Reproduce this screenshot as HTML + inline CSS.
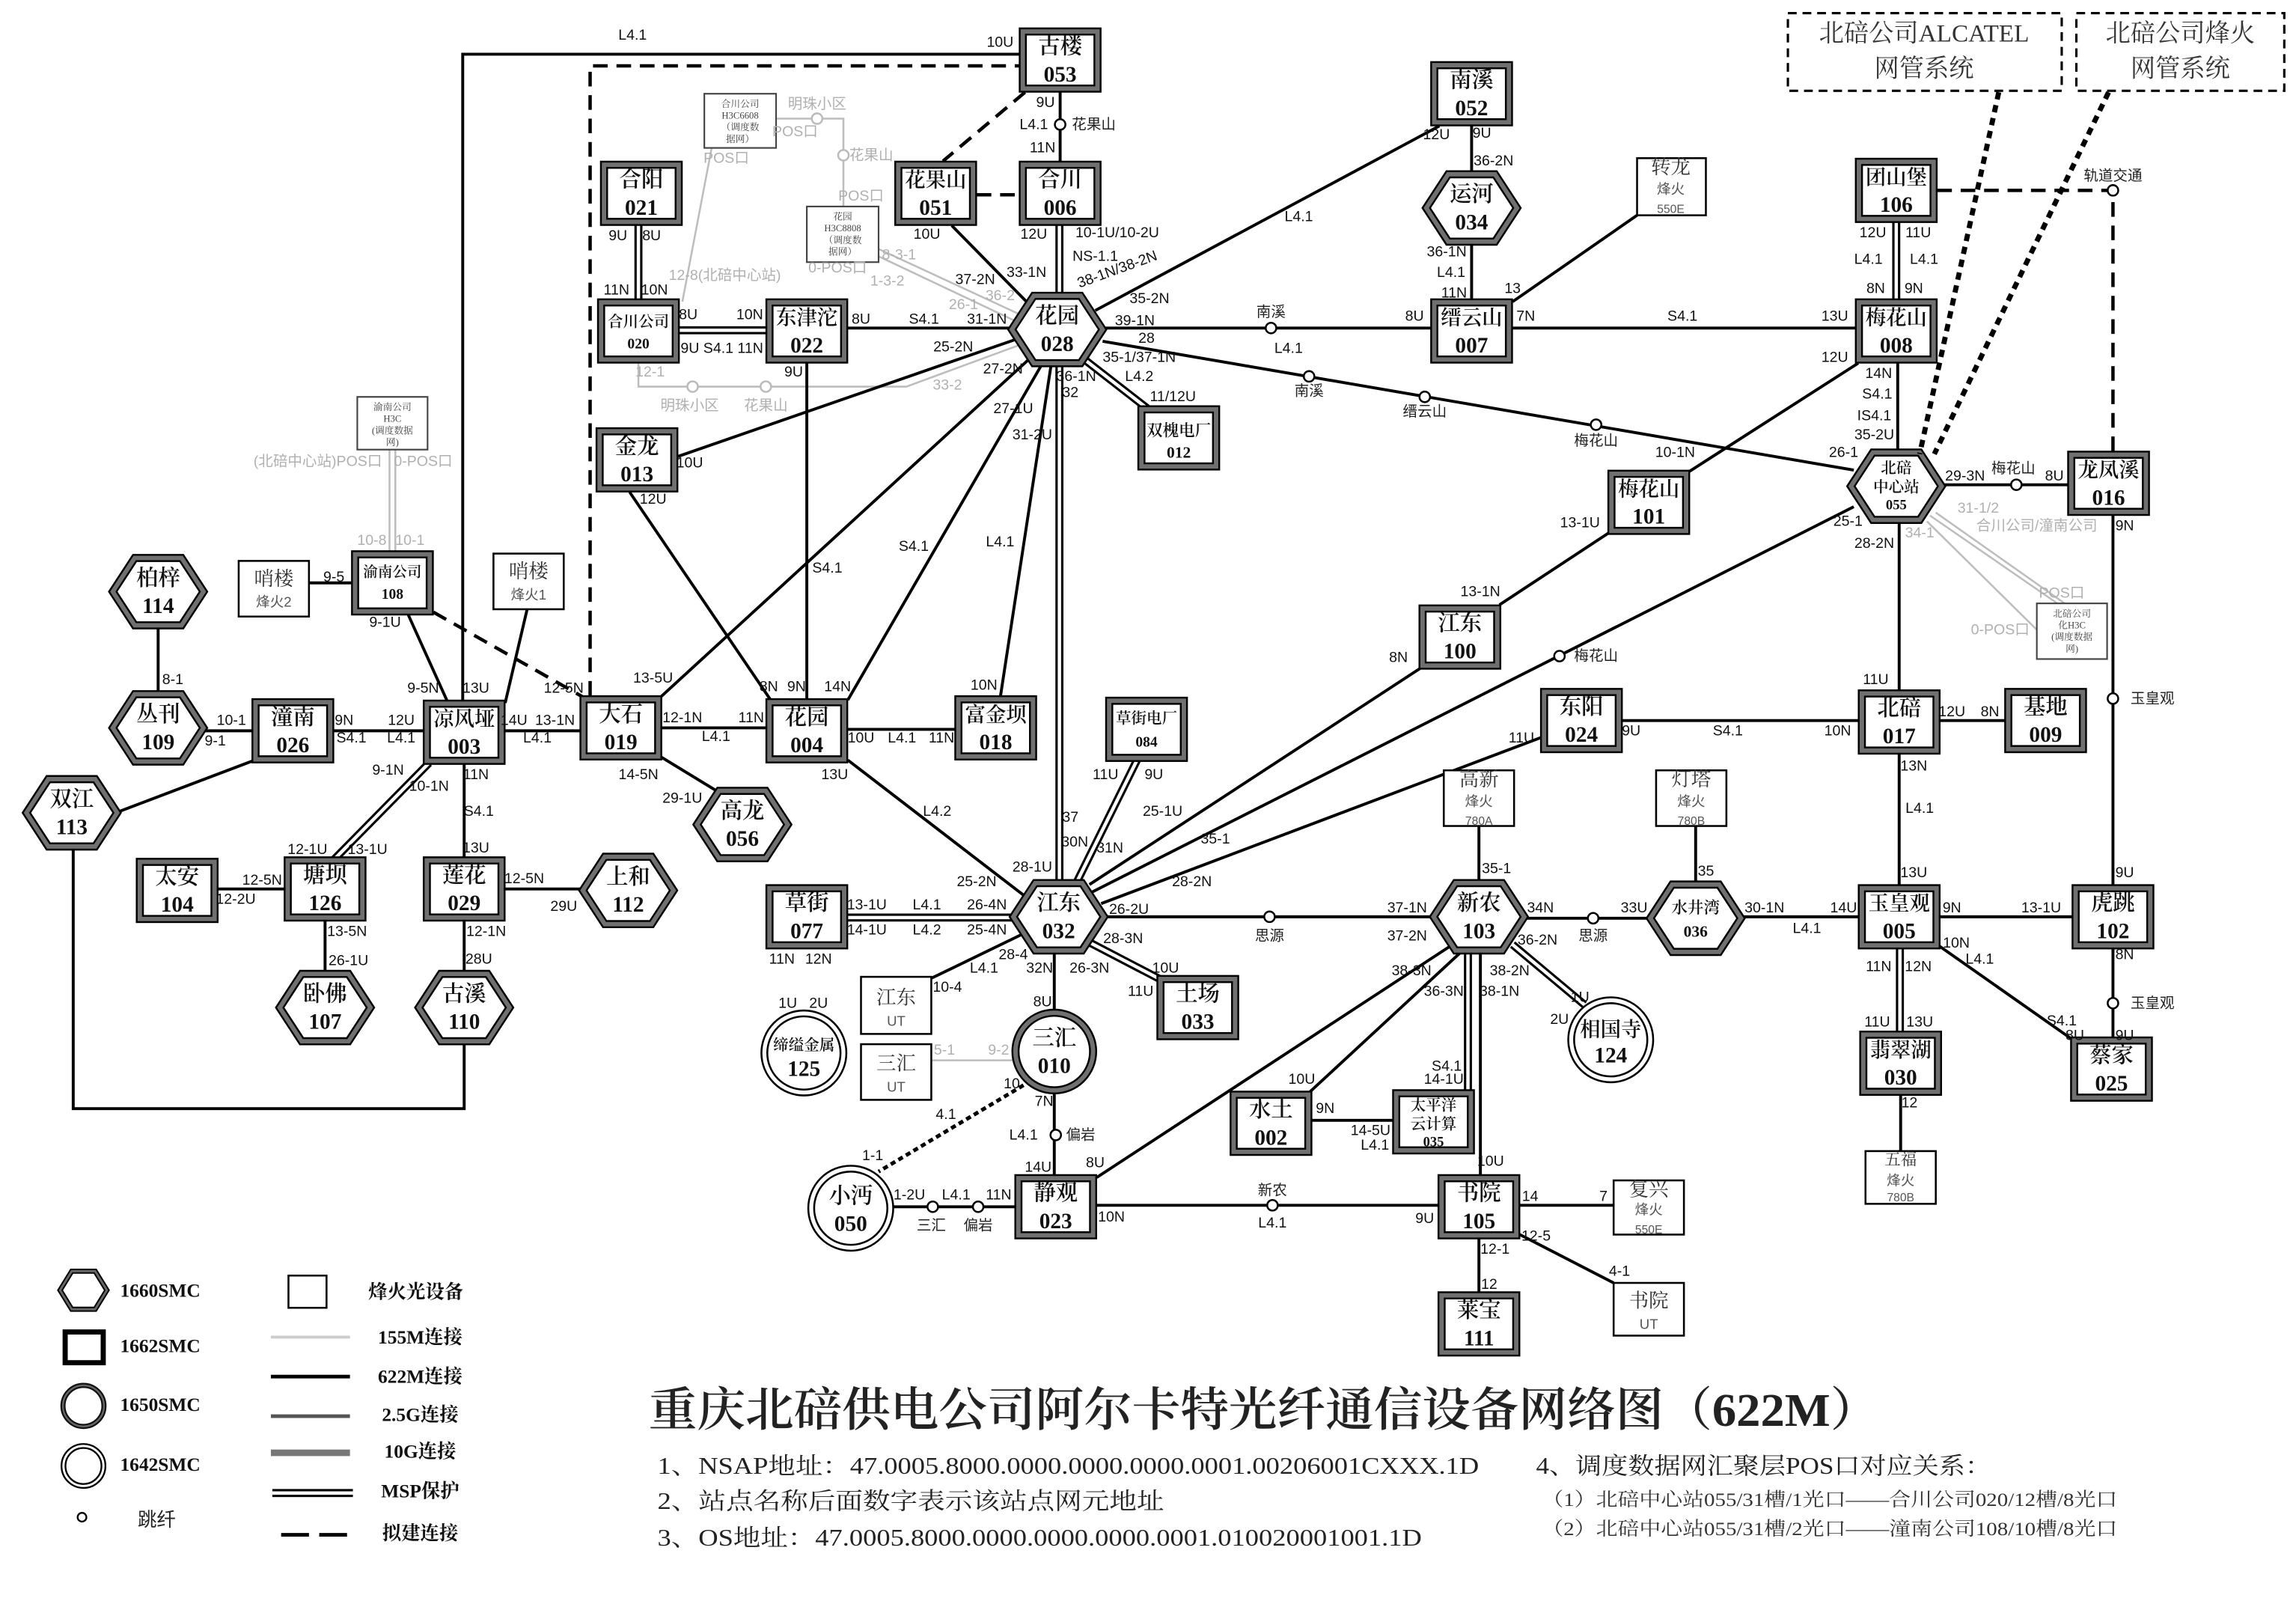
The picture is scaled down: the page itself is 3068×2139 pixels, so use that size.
<!DOCTYPE html>
<html><head><meta charset="utf-8"><style>
html,body{margin:0;padding:0;background:#fff}
svg{display:block}
.e{fill:none;stroke:#000;stroke-width:2}
.d{fill:none;stroke:#000;stroke-width:2.3;stroke-dasharray:10 6}
.m1{fill:none;stroke:#000;stroke-width:5.5}
.m2{fill:none;stroke:#fff;stroke-width:2.3}
.gl{fill:none;stroke:#bdbdbd;stroke-width:1.3}
.j{fill:#fff;stroke:#000;stroke-width:1.3}
.gj{fill:#fff;stroke:#bbb;stroke-width:1.3}
.b1{fill:#fff;stroke:#000;stroke-width:5.5}
.b2{fill:none;stroke:#707070;stroke-width:3}
.fb{fill:#fff;stroke:#000;stroke-width:1.3}
.hb{fill:#fff;stroke:#444;stroke-width:1.1}
text{dominant-baseline:central;text-anchor:middle}
.p{font-size:10px;font-family:"Liberation Sans",sans-serif;fill:#111}
.g{font-size:10px;font-family:"Liberation Sans","Noto Sans CJK SC",sans-serif;fill:#b0b0b0}
.c{font-size:10px;font-family:"Liberation Sans","Noto Sans CJK SC",sans-serif;fill:#222}
.nm{font-size:15px;font-family:"Liberation Serif","Noto Serif CJK SC",serif;font-weight:600;fill:#111}
.nu{font-size:15px;font-family:"Liberation Serif",serif;font-weight:bold;fill:#111}
.bn{font-size:13.5px;font-family:"Liberation Serif","Noto Serif CJK SC",serif;fill:#333}
.bs{font-size:9.5px;font-family:"Liberation Sans","Noto Sans CJK SC",sans-serif;fill:#555}
.h{font-size:6.5px;font-family:"Liberation Serif","Noto Serif CJK SC",serif;fill:#444}
.lg{font-size:13px;font-family:"Liberation Serif","Noto Serif CJK SC",serif;font-weight:bold;fill:#111}
</style></head><body>
<svg xmlns="http://www.w3.org/2000/svg" width="3068" height="2139" viewBox="0 0 1568 1093.2">
<rect width="1568" height="1093.2" fill="#fff"/>

<!-- gray 155M lines -->
<g>
<path class="gl" d="M530,81H576V141"/>
<path class="gl" d="M486,101L466,206"/>
<path class="gl" d="M436,248V264H619L695,236"/>
<path class="gl" d="M600,170L695,214"/>
<path class="gl" d="M600,175L693,219"/>
<path class="gl" d="M266,307V378"/>
<path class="gl" d="M270,307V378"/>
<path class="gl" d="M1318,352L1405,412"/>
<path class="gl" d="M1322,350L1410,412"/>
<path class="gl" d="M1316,356L1391,430"/>
<path class="gl" d="M636,724H692"/>
</g>

<!-- edges -->
<g>
<path class="e" d="M316,478V37H696"/>
<path class="d" d="M403,475V45H696"/>
<path class="e" d="M724,63V110"/>
<path class="d" d="M700,63L644,110"/>
<path class="d" d="M667,133H696"/>
<path class="m1" d="M723.5,154V202"/><path class="m2" d="M723.5,154V202"/>
<path class="e" d="M650,154L702,207"/>
<path class="e" d="M579,224H691"/>
<path class="e" d="M753,224H979"/>
<path class="e" d="M748,212L983,86"/>
<path class="e" d="M1005,86V119"/>
<path class="e" d="M1005,165V206"/>
<path class="e" d="M1118,147L1033,206"/>
<path class="e" d="M1033,224H1269"/>
<path class="m1" d="M1295,152V206"/><path class="m2" d="M1295,152V206"/>
<path class="d" d="M1323,130H1443V310"/>
<path class="e" d="M1296,248V309"/>
<path class="e" d="M1269,248L1152,323"/>
<path class="e" d="M753,233L1266,321"/>
<path class="m1" d="M740,245L785,280"/><path class="m2" d="M740,245L785,280"/>
<path class="e" d="M693,232L462,312"/>
<path class="e" d="M703,245L450,477"/>
<path class="e" d="M712,248L579,478"/>
<path class="e" d="M718,248L683,477"/>
<path class="m1" d="M723.5,248V603"/><path class="m2" d="M723.5,248V603"/>
<path class="e" d="M551,248V479"/>
<path class="e" d="M430,336L527,479"/>
<path class="m1" d="M436,154V206"/><path class="m2" d="M436,154V206"/>
<path class="m1" d="M464,225.5H525"/><path class="m2" d="M464,225.5H525"/>

<path class="e" d="M108,427V474"/>
<path class="e" d="M139,499H174"/>
<path class="e" d="M211,398H242"/>
<path class="e" d="M278,418L306,480"/>
<path class="d" d="M296,418L400,477"/>
<path class="e" d="M360,416L345,480"/>
<path class="e" d="M228,499H291"/>
<path class="e" d="M343,499H398"/>
<path class="e" d="M450,497H525"/>
<path class="e" d="M174,519L79,555"/>
<path class="m1" d="M293,521L228,587"/><path class="m2" d="M293,521L228,587"/>
<path class="e" d="M317,520V587"/>
<path class="e" d="M149,607H196"/>
<path class="e" d="M222,627V665"/>
<path class="e" d="M343,607H398"/>
<path class="e" d="M317,627V665"/>
<path class="e" d="M50,578V757H317V711"/>
<path class="e" d="M450,516L491,541"/>

<path class="e" d="M579,498H654"/>
<path class="e" d="M579,519L700,612"/>
<path class="m1" d="M777,518L735,603"/><path class="m2" d="M777,518L735,603"/>
<path class="e" d="M972,455L744,604"/>
<path class="e" d="M1266,346L746,609"/>
<path class="e" d="M1054,503L752,617"/>
<path class="e" d="M1100,363L1024,413"/>
<path class="e" d="M754,626H979"/>
<path class="m1" d="M579,626.5H692"/><path class="m2" d="M579,626.5H692"/>
<path class="e" d="M700,637L636,668"/>
<path class="e" d="M720,649V691"/>
<path class="m1" d="M745,644L793,669"/><path class="m2" d="M745,644L793,669"/>
<path class="e" d="M1010,564V603"/>
<path class="e" d="M1041,627H1127"/>
<path class="e" d="M1158,564V604"/>
<path class="e" d="M1189,626H1271"/>
<path class="m1" d="M1033,645L1082,686"/><path class="m2" d="M1033,645L1082,686"/>
<path class="e" d="M992,645L749,804"/>
<path class="e" d="M1000,648L893,747"/>
<path class="m1" d="M1002.5,649V746"/><path class="m2" d="M1002.5,649V746"/>
<path class="e" d="M1011,649V804"/>
<path class="e" d="M896,765H953"/>
<path class="e" d="M720,747V804"/>
<path fill="none" stroke="#000" stroke-width="2.6" stroke-dasharray="3.5 2.5" d="M699,741L600,800"/>
<path class="e" d="M610,824H695"/>
<path class="e" d="M747,823H984"/>
<path class="e" d="M1036,823H1102"/>
<path class="e" d="M1036,842L1102,876"/>
<path class="e" d="M1010,844V884"/>

<path class="e" d="M1326,331H1414"/>
<path class="e" d="M1297,355V473"/>
<path class="e" d="M1107,492H1271"/>
<path class="e" d="M1323,492H1371"/>
<path class="e" d="M1297,513V606"/>
<path class="e" d="M1443,350V606"/>
<path class="e" d="M1323,626H1417"/>
<path class="m1" d="M1297.5,646V706"/><path class="m2" d="M1297.5,646V706"/>
<path class="e" d="M1323,645L1417,711"/>
<path class="e" d="M1443,646V710"/>
<path class="e" d="M1298,746V786"/>
</g>

<!-- jump circles -->
<g>
<circle class="j" cx="724" cy="85" r="3.6"/>
<circle class="j" cx="868" cy="224" r="3.6"/>
<circle class="j" cx="894" cy="257" r="3.6"/>
<circle class="j" cx="973" cy="271" r="3.6"/>
<circle class="j" cx="1090" cy="290" r="3.6"/>
<circle class="j" cx="1065" cy="448" r="3.6"/>
<circle class="j" cx="1377" cy="331" r="3.6"/>
<circle class="j" cx="1443" cy="130" r="3.6"/>
<circle class="j" cx="1443" cy="477" r="3.6"/>
<circle class="j" cx="867" cy="626" r="3.6"/>
<circle class="j" cx="1088" cy="627" r="3.6"/>
<circle class="j" cx="1443" cy="685" r="3.6"/>
<circle class="j" cx="721" cy="775" r="3.6"/>
<circle class="j" cx="637" cy="824" r="3.6"/>
<circle class="j" cx="668" cy="824" r="3.6"/>
<circle class="j" cx="869" cy="823" r="3.6"/>
<circle class="gj" cx="558" cy="81" r="3.6"/>
<circle class="gj" cx="576" cy="106" r="3.6"/>
<circle class="gj" cx="473" cy="264" r="3.6"/>
<circle class="gj" cx="523" cy="264" r="3.6"/>
</g>

<!-- box nodes -->
<g transform="translate(724,41)"><rect class="b1" x="-25.5" y="-19.5" width="51" height="39"/><rect class="b2" x="-25.5" y="-19.5" width="51" height="39"/><text class="nm" y="-9">古楼</text><text class="nu" y="10">053</text></g>
<g transform="translate(1005,64)"><rect class="b1" x="-25.5" y="-19.5" width="51" height="39"/><rect class="b2" x="-25.5" y="-19.5" width="51" height="39"/><text class="nm" y="-9">南溪</text><text class="nu" y="10">052</text></g>
<g transform="translate(438,132)"><rect class="b1" x="-25.5" y="-19.5" width="51" height="39"/><rect class="b2" x="-25.5" y="-19.5" width="51" height="39"/><text class="nm" y="-9">合阳</text><text class="nu" y="10">021</text></g>
<g transform="translate(639,132)"><rect class="b1" x="-25.5" y="-19.5" width="51" height="39"/><rect class="b2" x="-25.5" y="-19.5" width="51" height="39"/><text class="nm" y="-9" style="font-size:14px">花果山</text><text class="nu" y="10">051</text></g>
<g transform="translate(724,132)"><rect class="b1" x="-25.5" y="-19.5" width="51" height="39"/><rect class="b2" x="-25.5" y="-19.5" width="51" height="39"/><text class="nm" y="-9">合川</text><text class="nu" y="10">006</text></g>
<g transform="translate(1295,130)"><rect class="b1" x="-25.5" y="-19.5" width="51" height="39"/><rect class="b2" x="-25.5" y="-19.5" width="51" height="39"/><text class="nm" y="-9" style="font-size:14px">团山堡</text><text class="nu" y="10">106</text></g>
<g transform="translate(436,226)"><rect class="b1" x="-25.5" y="-19.5" width="51" height="39"/><rect class="b2" x="-25.5" y="-19.5" width="51" height="39"/><text class="nm" y="-6" style="font-size:10.5px">合川公司</text><text class="nu" y="9" style="font-size:10px">020</text></g>
<g transform="translate(551,226)"><rect class="b1" x="-25.5" y="-19.5" width="51" height="39"/><rect class="b2" x="-25.5" y="-19.5" width="51" height="39"/><text class="nm" y="-9" style="font-size:14px">东津沱</text><text class="nu" y="10">022</text></g>
<g transform="translate(1005,226)"><rect class="b1" x="-25.5" y="-19.5" width="51" height="39"/><rect class="b2" x="-25.5" y="-19.5" width="51" height="39"/><text class="nm" y="-9" style="font-size:14px">缙云山</text><text class="nu" y="10">007</text></g>
<g transform="translate(1295,226)"><rect class="b1" x="-25.5" y="-19.5" width="51" height="39"/><rect class="b2" x="-25.5" y="-19.5" width="51" height="39"/><text class="nm" y="-9" style="font-size:14px">梅花山</text><text class="nu" y="10">008</text></g>
<g transform="translate(805,299)"><rect class="b1" x="-25.5" y="-19.5" width="51" height="39"/><rect class="b2" x="-25.5" y="-19.5" width="51" height="39"/><text class="nm" y="-5" style="font-size:11px">双槐电厂</text><text class="nu" y="10" style="font-size:11px">012</text></g>
<g transform="translate(435,314)"><rect class="b1" x="-25.5" y="-19.5" width="51" height="39"/><rect class="b2" x="-25.5" y="-19.5" width="51" height="39"/><text class="nm" y="-9">金龙</text><text class="nu" y="10">013</text></g>
<g transform="translate(1440,330)"><rect class="b1" x="-25.5" y="-19.5" width="51" height="39"/><rect class="b2" x="-25.5" y="-19.5" width="51" height="39"/><text class="nm" y="-9" style="font-size:14px">龙凤溪</text><text class="nu" y="10">016</text></g>
<g transform="translate(1126,343)"><rect class="b1" x="-25.5" y="-19.5" width="51" height="39"/><rect class="b2" x="-25.5" y="-19.5" width="51" height="39"/><text class="nm" y="-9" style="font-size:14px">梅花山</text><text class="nu" y="10">101</text></g>
<g transform="translate(268,398)"><rect class="b1" x="-25.5" y="-19.5" width="51" height="39"/><rect class="b2" x="-25.5" y="-19.5" width="51" height="39"/><text class="nm" y="-7" style="font-size:10px">渝南公司</text><text class="nu" y="8" style="font-size:10px">108</text></g>
<g transform="translate(997,435)"><rect class="b1" x="-25.5" y="-19.5" width="51" height="39"/><rect class="b2" x="-25.5" y="-19.5" width="51" height="39"/><text class="nm" y="-9">江东</text><text class="nu" y="10">100</text></g>
<g transform="translate(200,499)"><rect class="b1" x="-25.5" y="-19.5" width="51" height="39"/><rect class="b2" x="-25.5" y="-19.5" width="51" height="39"/><text class="nm" y="-9">潼南</text><text class="nu" y="10">026</text></g>
<g transform="translate(317,500)"><rect class="b1" x="-25.5" y="-19.5" width="51" height="39"/><rect class="b2" x="-25.5" y="-19.5" width="51" height="39"/><text class="nm" y="-9" style="font-size:14px">凉风垭</text><text class="nu" y="10">003</text></g>
<g transform="translate(424,497)"><rect class="b1" x="-25.5" y="-19.5" width="51" height="39"/><rect class="b2" x="-25.5" y="-19.5" width="51" height="39"/><text class="nm" y="-9">大石</text><text class="nu" y="10">019</text></g>
<g transform="translate(551,499)"><rect class="b1" x="-25.5" y="-19.5" width="51" height="39"/><rect class="b2" x="-25.5" y="-19.5" width="51" height="39"/><text class="nm" y="-9">花园</text><text class="nu" y="10">004</text></g>
<g transform="translate(680,497)"><rect class="b1" x="-25.5" y="-19.5" width="51" height="39"/><rect class="b2" x="-25.5" y="-19.5" width="51" height="39"/><text class="nm" y="-9" style="font-size:14px">富金坝</text><text class="nu" y="10">018</text></g>
<g transform="translate(783,498)"><rect class="b1" x="-25.5" y="-19.5" width="51" height="39"/><rect class="b2" x="-25.5" y="-19.5" width="51" height="39"/><text class="nm" y="-7" style="font-size:10.5px">草街电厂</text><text class="nu" y="9" style="font-size:10px">084</text></g>
<g transform="translate(1080,492)"><rect class="b1" x="-25.5" y="-19.5" width="51" height="39"/><rect class="b2" x="-25.5" y="-19.5" width="51" height="39"/><text class="nm" y="-9">东阳</text><text class="nu" y="10">024</text></g>
<g transform="translate(1297,493)"><rect class="b1" x="-25.5" y="-19.5" width="51" height="39"/><rect class="b2" x="-25.5" y="-19.5" width="51" height="39"/><text class="nm" y="-9">北碚</text><text class="nu" y="10">017</text></g>
<g transform="translate(1397,492)"><rect class="b1" x="-25.5" y="-19.5" width="51" height="39"/><rect class="b2" x="-25.5" y="-19.5" width="51" height="39"/><text class="nm" y="-9">基地</text><text class="nu" y="10">009</text></g>
<g transform="translate(121,608)"><rect class="b1" x="-25.5" y="-19.5" width="51" height="39"/><rect class="b2" x="-25.5" y="-19.5" width="51" height="39"/><text class="nm" y="-9">太安</text><text class="nu" y="10">104</text></g>
<g transform="translate(222,607)"><rect class="b1" x="-25.5" y="-19.5" width="51" height="39"/><rect class="b2" x="-25.5" y="-19.5" width="51" height="39"/><text class="nm" y="-9">塘坝</text><text class="nu" y="10">126</text></g>
<g transform="translate(317,607)"><rect class="b1" x="-25.5" y="-19.5" width="51" height="39"/><rect class="b2" x="-25.5" y="-19.5" width="51" height="39"/><text class="nm" y="-9">莲花</text><text class="nu" y="10">029</text></g>
<g transform="translate(551,626)"><rect class="b1" x="-25.5" y="-19.5" width="51" height="39"/><rect class="b2" x="-25.5" y="-19.5" width="51" height="39"/><text class="nm" y="-9">草街</text><text class="nu" y="10">077</text></g>
<g transform="translate(818,688)"><rect class="b1" x="-25.5" y="-19.5" width="51" height="39"/><rect class="b2" x="-25.5" y="-19.5" width="51" height="39"/><text class="nm" y="-9">土场</text><text class="nu" y="10">033</text></g>
<g transform="translate(1297,626)"><rect class="b1" x="-25.5" y="-19.5" width="51" height="39"/><rect class="b2" x="-25.5" y="-19.5" width="51" height="39"/><text class="nm" y="-9" style="font-size:14px">玉皇观</text><text class="nu" y="10">005</text></g>
<g transform="translate(1443,626)"><rect class="b1" x="-25.5" y="-19.5" width="51" height="39"/><rect class="b2" x="-25.5" y="-19.5" width="51" height="39"/><text class="nm" y="-9">虎跳</text><text class="nu" y="10">102</text></g>
<g transform="translate(1298,726)"><rect class="b1" x="-25.5" y="-19.5" width="51" height="39"/><rect class="b2" x="-25.5" y="-19.5" width="51" height="39"/><text class="nm" y="-9" style="font-size:14px">翡翠湖</text><text class="nu" y="10">030</text></g>
<g transform="translate(1442,730)"><rect class="b1" x="-25.5" y="-19.5" width="51" height="39"/><rect class="b2" x="-25.5" y="-19.5" width="51" height="39"/><text class="nm" y="-9">蔡家</text><text class="nu" y="10">025</text></g>
<g transform="translate(868,767)"><rect class="b1" x="-25.5" y="-19.5" width="51" height="39"/><rect class="b2" x="-25.5" y="-19.5" width="51" height="39"/><text class="nm" y="-9">水土</text><text class="nu" y="10">002</text></g>
<g transform="translate(979,766)"><rect class="b1" x="-25.5" y="-19.5" width="51" height="39"/><rect class="b2" x="-25.5" y="-19.5" width="51" height="39"/><text class="nm" y="-11" style="font-size:10.5px">太平洋</text><text class="nm" y="2" style="font-size:10.5px">云计算</text><text class="nu" y="14" style="font-size:9.5px">035</text></g>
<g transform="translate(721,824)"><rect class="b1" x="-25.5" y="-19.5" width="51" height="39"/><rect class="b2" x="-25.5" y="-19.5" width="51" height="39"/><text class="nm" y="-9">静观</text><text class="nu" y="10">023</text></g>
<g transform="translate(1010,824)"><rect class="b1" x="-25.5" y="-19.5" width="51" height="39"/><rect class="b2" x="-25.5" y="-19.5" width="51" height="39"/><text class="nm" y="-9">书院</text><text class="nu" y="10">105</text></g>
<g transform="translate(1010,904)"><rect class="b1" x="-25.5" y="-19.5" width="51" height="39"/><rect class="b2" x="-25.5" y="-19.5" width="51" height="39"/><text class="nm" y="-9">莱宝</text><text class="nu" y="10">111</text></g>

<!-- hex nodes -->
<g transform="translate(722,225)"><polygon class="b1" points="-31,0 -16,-23 16,-23 31,0 16,23 -16,23"/><polygon class="b2" points="-31,0 -16,-23 16,-23 31,0 16,23 -16,23"/><text class="nm" y="-9">花园</text><text class="nu" y="10">028</text></g>
<g transform="translate(1005,142)"><polygon class="b1" points="-31,0 -16,-23 16,-23 31,0 16,23 -16,23"/><polygon class="b2" points="-31,0 -16,-23 16,-23 31,0 16,23 -16,23"/><text class="nm" y="-9">运河</text><text class="nu" y="10">034</text></g>
<g transform="translate(1295,332)"><polygon class="b1" points="-31,0 -16,-23 16,-23 31,0 16,23 -16,23"/><polygon class="b2" points="-31,0 -16,-23 16,-23 31,0 16,23 -16,23"/><text class="nm" y="-12" style="font-size:10.5px">北碚</text><text class="nm" y="1" style="font-size:10.5px">中心站</text><text class="nu" y="13" style="font-size:9.5px">055</text></g>
<g transform="translate(108,404)"><polygon class="b1" points="-31,0 -16,-23 16,-23 31,0 16,23 -16,23"/><polygon class="b2" points="-31,0 -16,-23 16,-23 31,0 16,23 -16,23"/><text class="nm" y="-9">柏梓</text><text class="nu" y="10">114</text></g>
<g transform="translate(108,497)"><polygon class="b1" points="-31,0 -16,-23 16,-23 31,0 16,23 -16,23"/><polygon class="b2" points="-31,0 -16,-23 16,-23 31,0 16,23 -16,23"/><text class="nm" y="-9">丛刊</text><text class="nu" y="10">109</text></g>
<g transform="translate(49,555)"><polygon class="b1" points="-31,0 -16,-23 16,-23 31,0 16,23 -16,23"/><polygon class="b2" points="-31,0 -16,-23 16,-23 31,0 16,23 -16,23"/><text class="nm" y="-9">双江</text><text class="nu" y="10">113</text></g>
<g transform="translate(507,563)"><polygon class="b1" points="-31,0 -16,-23 16,-23 31,0 16,23 -16,23"/><polygon class="b2" points="-31,0 -16,-23 16,-23 31,0 16,23 -16,23"/><text class="nm" y="-9">高龙</text><text class="nu" y="10">056</text></g>
<g transform="translate(429,608)"><polygon class="b1" points="-31,0 -16,-23 16,-23 31,0 16,23 -16,23"/><polygon class="b2" points="-31,0 -16,-23 16,-23 31,0 16,23 -16,23"/><text class="nm" y="-9">上和</text><text class="nu" y="10">112</text></g>
<g transform="translate(222,688)"><polygon class="b1" points="-31,0 -16,-23 16,-23 31,0 16,23 -16,23"/><polygon class="b2" points="-31,0 -16,-23 16,-23 31,0 16,23 -16,23"/><text class="nm" y="-9">卧佛</text><text class="nu" y="10">107</text></g>
<g transform="translate(317,688)"><polygon class="b1" points="-31,0 -16,-23 16,-23 31,0 16,23 -16,23"/><polygon class="b2" points="-31,0 -16,-23 16,-23 31,0 16,23 -16,23"/><text class="nm" y="-9">古溪</text><text class="nu" y="10">110</text></g>
<g transform="translate(723,626)"><polygon class="b1" points="-31,0 -16,-23 16,-23 31,0 16,23 -16,23"/><polygon class="b2" points="-31,0 -16,-23 16,-23 31,0 16,23 -16,23"/><text class="nm" y="-9">江东</text><text class="nu" y="10">032</text></g>
<g transform="translate(1010,626)"><polygon class="b1" points="-31,0 -16,-23 16,-23 31,0 16,23 -16,23"/><polygon class="b2" points="-31,0 -16,-23 16,-23 31,0 16,23 -16,23"/><text class="nm" y="-9">新农</text><text class="nu" y="10">103</text></g>
<g transform="translate(1158,627)"><polygon class="b1" points="-31,0 -16,-23 16,-23 31,0 16,23 -16,23"/><polygon class="b2" points="-31,0 -16,-23 16,-23 31,0 16,23 -16,23"/><text class="nm" y="-7" style="font-size:11px">水井湾</text><text class="nu" y="9" style="font-size:11px">036</text></g>

<!-- circle nodes -->
<g transform="translate(720,718)"><circle r="26.5" fill="#fff" stroke="#000" stroke-width="5.5"/><circle r="26.5" fill="none" stroke="#707070" stroke-width="3"/><text class="nm" y="-9">三汇</text><text class="nu" y="10">010</text></g>
<g transform="translate(549,719)"><circle r="29" fill="#fff" stroke="#000" stroke-width="1.3"/><circle r="25" fill="none" stroke="#000" stroke-width="1.3"/><text class="nm" y="-5" style="font-size:10.5px">缔缢金属</text><text class="nu" y="11">125</text></g>
<g transform="translate(1100,710)"><circle r="29" fill="#fff" stroke="#000" stroke-width="1.3"/><circle r="25" fill="none" stroke="#000" stroke-width="1.3"/><text class="nm" y="-7" style="font-size:14px">相国寺</text><text class="nu" y="11">124</text></g>
<g transform="translate(581,825)"><circle r="29" fill="#fff" stroke="#000" stroke-width="1.3"/><circle r="25" fill="none" stroke="#000" stroke-width="1.3"/><text class="nm" y="-8">小沔</text><text class="nu" y="11">050</text></g>

<!-- beacon boxes -->
<rect class="fb" x="163" y="383" width="48" height="38"/><text class="bn" x="187" y="395">哨楼</text><text class="bs" x="187" y="411">烽火2</text>
<rect class="fb" x="337" y="378" width="48" height="38"/><text class="bn" x="361" y="390">哨楼</text><text class="bs" x="361" y="406">烽火1</text>
<rect class="fb" x="1118" y="108" width="47" height="39"/><text class="bn" x="1141" y="114">转龙</text><text class="bs" x="1141" y="129">烽火</text><text class="bs" x="1141" y="143" style="font-size:8px">550E</text>
<rect class="fb" x="986" y="526" width="48" height="38"/><text class="bn" x="1010" y="532">高新</text><text class="bs" x="1010" y="547">烽火</text><text class="bs" x="1010" y="561" style="font-size:8px">780A</text>
<rect class="fb" x="1131" y="526" width="48" height="38"/><text class="bn" x="1155" y="532">灯塔</text><text class="bs" x="1155" y="547">烽火</text><text class="bs" x="1155" y="561" style="font-size:8px">780B</text>
<rect class="fb" x="1274" y="786" width="48" height="36"/><text class="bn" x="1298" y="792" style="font-size:11px">五福</text><text class="bs" x="1298" y="806">烽火</text><text class="bs" x="1298" y="818" style="font-size:8px">780B</text>
<rect class="fb" x="1102" y="806" width="48" height="37"/><text class="bn" x="1126" y="812">复兴</text><text class="bs" x="1126" y="826">烽火</text><text class="bs" x="1126" y="840" style="font-size:8px">550E</text>
<rect class="fb" x="1102" y="876" width="48" height="36"/><text class="bn" x="1126" y="888">书院</text><text class="bs" x="1126" y="904">UT</text>
<rect class="fb" x="588" y="667" width="48" height="39"/><text class="bn" x="612" y="681">江东</text><text class="bs" x="612" y="697">UT</text>
<rect class="fb" x="588" y="713" width="48" height="38"/><text class="bn" x="612" y="726">三汇</text><text class="bs" x="612" y="742">UT</text>

<!-- H3C boxes -->
<rect class="hb" x="481" y="64" width="49" height="37"/><text class="h" x="505.5" y="71">合川公司</text><text class="h" x="505.5" y="79">H3C6608</text><text class="h" x="505.5" y="87">（调度数</text><text class="h" x="505.5" y="95">据网）</text>
<rect class="hb" x="551" y="141" width="49" height="38"/><text class="h" x="575.5" y="148">花园</text><text class="h" x="575.5" y="156">H3C8808</text><text class="h" x="575.5" y="164">（调度数</text><text class="h" x="575.5" y="172">据网）</text>
<rect class="hb" x="244" y="271" width="48" height="36"/><text class="h" x="268" y="278">渝南公司</text><text class="h" x="268" y="286">H3C</text><text class="h" x="268" y="294">(调度数据</text><text class="h" x="268" y="302">网)</text>
<rect class="hb" x="1391" y="412" width="48" height="38"/><text class="h" x="1415" y="419">北碚公司</text><text class="h" x="1415" y="427">化H3C</text><text class="h" x="1415" y="435">(调度数据</text><text class="h" x="1415" y="443">网)</text>

<!-- NMS boxes -->
<rect x="1221" y="9" width="187" height="53" fill="#fff" stroke="#000" stroke-width="1.6" stroke-dasharray="6 4"/>
<text x="1314" y="23" style="font-size:17px;font-family:'Liberation Serif','Noto Serif CJK SC',serif;fill:#333">北碚公司ALCATEL</text>
<text x="1314" y="47" style="font-size:17px;font-family:'Liberation Serif','Noto Serif CJK SC',serif;fill:#333">网管系统</text>
<rect x="1418" y="9" width="142" height="53" fill="#fff" stroke="#000" stroke-width="1.6" stroke-dasharray="6 4"/>
<text x="1489" y="23" style="font-size:17px;font-family:'Liberation Serif','Noto Serif CJK SC',serif;fill:#333">北碚公司烽火</text>
<text x="1489" y="47" style="font-size:17px;font-family:'Liberation Serif','Noto Serif CJK SC',serif;fill:#333">网管系统</text>
<path fill="none" stroke="#000" stroke-width="3.5" stroke-dasharray="5 4" d="M1365,63L1311,310"/>
<path fill="none" stroke="#000" stroke-width="3.5" stroke-dasharray="5 4" d="M1440,63L1321,310"/>

<!-- port labels -->
<g class="p">
<text class="p" x="432" y="24">L4.1</text>
<text class="p" x="683" y="29">10U</text>
<text class="p" x="714" y="70">9U</text>
<text class="p" x="706" y="85">L4.1</text>
<text class="p" x="712" y="101">11N</text>
<text class="p" x="633" y="160">10U</text>
<text class="p" x="706" y="160">12U</text>
<text class="p" x="763" y="159">10-1U/10-2U</text>
<text class="p" x="748" y="175">NS-1.1</text>
<text class="p" x="701" y="186">33-1N</text>
<text class="p" x="666" y="191">37-2N</text>
<text class="p" x="763" y="184" transform="rotate(-20 763 184)">38-1N/38-2N</text>
<text class="p" x="785" y="204">35-2N</text>
<text class="p" x="775" y="219">39-1N</text>
<text class="p" x="783" y="231">28</text>
<text class="p" x="880" y="238">L4.1</text>
<text class="p" x="966" y="216">8U</text>
<text class="p" x="1042" y="216">7N</text>
<text class="p" x="1033" y="197">13</text>
<text class="p" x="981" y="92">12U</text>
<text class="p" x="1012" y="91">9U</text>
<text class="p" x="1020" y="110">36-2N</text>
<text class="p" x="988" y="172">36-1N</text>
<text class="p" x="991" y="186">L4.1</text>
<text class="p" x="993" y="200">11N</text>
<text class="p" x="887" y="148">L4.1</text>
<text class="p" x="674" y="218">31-1N</text>
<text class="p" x="631" y="218">S4.1</text>
<text class="p" x="588" y="218">8U</text>
<text class="p" x="651" y="237">25-2N</text>
<text class="p" x="685" y="252">27-2N</text>
<text class="p" x="778" y="244">35-1/37-1N</text>
<text class="p" x="735" y="257">36-1N</text>
<text class="p" x="778" y="257">L4.2</text>
<text class="p" x="731" y="268">32</text>
<text class="p" x="801" y="271">11/12U</text>
<text class="p" x="692" y="279">27-1U</text>
<text class="p" x="705" y="297">31-2U</text>
<text class="p" x="624" y="373">S4.1</text>
<text class="p" x="683" y="370">L4.1</text>
<text class="p" x="565" y="388">S4.1</text>
<text class="p" x="542" y="254">9U</text>
<text class="p" x="422" y="161">9U</text>
<text class="p" x="445" y="161">8U</text>
<text class="p" x="421" y="198">11N</text>
<text class="p" x="447" y="198">10N</text>
<text class="p" x="470" y="215">8U</text>
<text class="p" x="512" y="215">10N</text>
<text class="p" x="493" y="238">9U S4.1 11N</text>
<text class="p" x="471" y="316">10U</text>
<text class="p" x="446" y="341">12U</text>

<text class="p" x="1279" y="159">12U</text>
<text class="p" x="1310" y="159">11U</text>
<text class="p" x="1276" y="177">L4.1</text>
<text class="p" x="1314" y="177">L4.1</text>
<text class="p" x="1281" y="197">8N</text>
<text class="p" x="1307" y="197">9N</text>
<text class="p" x="1149" y="216">S4.1</text>
<text class="p" x="1253" y="216">13U</text>
<text class="p" x="1253" y="244">12U</text>
<text class="p" x="1283" y="255">14N</text>
<text class="p" x="1282" y="269">S4.1</text>
<text class="p" x="1280" y="284">IS4.1</text>
<text class="p" x="1280" y="297">35-2U</text>
<text class="p" x="1259" y="309">26-1</text>
<text class="p" x="1144" y="309">10-1N</text>
<text class="p" x="1079" y="357">13-1U</text>
<text class="p" x="1342" y="325">29-3N</text>
<text class="p" x="1403" y="325">8U</text>
<text class="p" x="1451" y="359">9N</text>
<text class="p" x="1262" y="356">25-1</text>
<text class="p" x="1280" y="371">28-2N</text>
<text class="p" x="1039" y="504">11U</text>
<text class="p" x="1114" y="499">9U</text>
<text class="p" x="1180" y="499">S4.1</text>
<text class="p" x="1255" y="499">10N</text>
<text class="p" x="1281" y="464">11U</text>
<text class="p" x="1333" y="486">12U</text>
<text class="p" x="1359" y="486">8N</text>
<text class="p" x="1307" y="523">13N</text>
<text class="p" x="1311" y="552">L4.1</text>
<text class="p" x="1307" y="596">13U</text>
<text class="p" x="1165" y="595">35</text>
<text class="p" x="1052" y="620">34N</text>
<text class="p" x="1116" y="620">33U</text>
<text class="p" x="1205" y="620">30-1N</text>
<text class="p" x="1259" y="620">14U</text>
<text class="p" x="1234" y="634">L4.1</text>
<text class="p" x="1333" y="620">9N</text>
<text class="p" x="1394" y="620">13-1U</text>
<text class="p" x="1451" y="596">9U</text>
<text class="p" x="1336" y="644">10N</text>
<text class="p" x="1352" y="655">L4.1</text>
<text class="p" x="1283" y="660">11N</text>
<text class="p" x="1310" y="660">12N</text>
<text class="p" x="1451" y="652">8N</text>
<text class="p" x="1408" y="697">S4.1</text>
<text class="p" x="1417" y="707">8U</text>
<text class="p" x="1451" y="707">9U</text>
<text class="p" x="1282" y="698">11U</text>
<text class="p" x="1311" y="698">13U</text>
<text class="p" x="1304" y="753">12</text>
<text class="p" x="1079" y="681">1U</text>
<text class="p" x="1050" y="642">36-2N</text>

<text class="p" x="228" y="394">9-5</text>
<text class="p" x="263" y="425">9-1U</text>
<text class="p" x="289" y="470">9-5N</text>
<text class="p" x="325" y="470">13U</text>
<text class="p" x="385" y="470">12-5N</text>
<text class="p" x="446" y="463">13-5U</text>
<text class="p" x="525" y="469">8N</text>
<text class="p" x="544" y="469">9N</text>
<text class="p" x="572" y="469">14N</text>
<text class="p" x="118" y="464">8-1</text>
<text class="p" x="158" y="492">10-1</text>
<text class="p" x="147" y="506">9-1</text>
<text class="p" x="235" y="492">9N</text>
<text class="p" x="274" y="492">12U</text>
<text class="p" x="240" y="504">S4.1</text>
<text class="p" x="274" y="504">L4.1</text>
<text class="p" x="351" y="492">14U</text>
<text class="p" x="379" y="492">13-1N</text>
<text class="p" x="367" y="504">L4.1</text>
<text class="p" x="466" y="490">12-1N</text>
<text class="p" x="513" y="490">11N</text>
<text class="p" x="489" y="503">L4.1</text>
<text class="p" x="436" y="529">14-5N</text>
<text class="p" x="466" y="545">29-1U</text>
<text class="p" x="265" y="526">9-1N</text>
<text class="p" x="293" y="537">10-1N</text>
<text class="p" x="325" y="529">11N</text>
<text class="p" x="327" y="554">S4.1</text>
<text class="p" x="325" y="579">13U</text>
<text class="p" x="210" y="580">12-1U</text>
<text class="p" x="251" y="580">13-1U</text>
<text class="p" x="179" y="601">12-5N</text>
<text class="p" x="161" y="614">12-2U</text>
<text class="p" x="358" y="600">12-5N</text>
<text class="p" x="385" y="619">29U</text>
<text class="p" x="237" y="636">13-5N</text>
<text class="p" x="238" y="656">26-1U</text>
<text class="p" x="332" y="636">12-1N</text>
<text class="p" x="327" y="655">28U</text>

<text class="p" x="672" y="468">10N</text>
<text class="p" x="588" y="504">10U</text>
<text class="p" x="616" y="504">L4.1</text>
<text class="p" x="643" y="504">11N</text>
<text class="p" x="570" y="529">13U</text>
<text class="p" x="640" y="554">L4.2</text>
<text class="p" x="731" y="558">37</text>
<text class="p" x="734" y="575">30N</text>
<text class="p" x="758" y="579">31N</text>
<text class="p" x="755" y="529">11U</text>
<text class="p" x="788" y="529">9U</text>
<text class="p" x="794" y="554">25-1U</text>
<text class="p" x="830" y="573">35-1</text>
<text class="p" x="814" y="602">28-2N</text>
<text class="p" x="1011" y="404">13-1N</text>
<text class="p" x="955" y="449">8N</text>
<text class="p" x="1022" y="593">35-1</text>
<text class="p" x="705" y="592">28-1U</text>
<text class="p" x="667" y="602">25-2N</text>
<text class="p" x="592" y="618">13-1U</text>
<text class="p" x="633" y="618">L4.1</text>
<text class="p" x="674" y="618">26-4N</text>
<text class="p" x="592" y="635">14-1U</text>
<text class="p" x="633" y="635">L4.2</text>
<text class="p" x="674" y="635">25-4N</text>
<text class="p" x="771" y="621">26-2U</text>
<text class="p" x="961" y="620">37-1N</text>
<text class="p" x="961" y="639">37-2N</text>
<text class="p" x="767" y="641">28-3N</text>
<text class="p" x="692" y="652">28-4</text>
<text class="p" x="672" y="661">L4.1</text>
<text class="p" x="710" y="661">32N</text>
<text class="p" x="744" y="661">26-3N</text>
<text class="p" x="796" y="661">10U</text>
<text class="p" x="779" y="677">11U</text>
<text class="p" x="647" y="674">10-4</text>
<text class="p" x="534" y="655">11N</text>
<text class="p" x="559" y="655">12N</text>
<text class="p" x="538" y="685">1U</text>
<text class="p" x="559" y="685">2U</text>
<text class="p" x="712" y="684">8U</text>
<text class="p" x="964" y="663">38-3N</text>
<text class="p" x="1031" y="663">38-2N</text>
<text class="p" x="986" y="677">36-3N</text>
<text class="p" x="1024" y="677">38-1N</text>
<text class="p" x="1065" y="696">2U</text>
<text class="p" x="988" y="728">S4.1</text>
<text class="p" x="986" y="737">14-1U</text>
<text class="p" x="889" y="737">10U</text>
<text class="p" x="691" y="740">10</text>
<text class="p" x="713" y="752">7N</text>
<text class="p" x="646" y="761">4.1</text>
<text class="p" x="596" y="789">1-1</text>
<text class="p" x="699" y="775">L4.1</text>
<text class="p" x="709" y="797">14U</text>
<text class="p" x="748" y="794">8U</text>
<text class="p" x="905" y="757">9N</text>
<text class="p" x="936" y="772">14-5U</text>
<text class="p" x="939" y="782">L4.1</text>
<text class="p" x="621" y="816">1-2U</text>
<text class="p" x="653" y="816">L4.1</text>
<text class="p" x="682" y="816">11N</text>
<text class="p" x="759" y="831">10N</text>
<text class="p" x="869" y="835">L4.1</text>
<text class="p" x="973" y="832">9U</text>
<text class="p" x="1018" y="793">10U</text>
<text class="p" x="1045" y="817">14</text>
<text class="p" x="1095" y="817">7</text>
<text class="p" x="1049" y="844">12-5</text>
<text class="p" x="1106" y="868">4-1</text>
<text class="p" x="1021" y="853">12-1</text>
<text class="p" x="1017" y="877">12</text>
</g>

<!-- small chinese labels -->
<text class="c" x="747" y="85">花果山</text>
<text class="c" x="868" y="213">南溪</text>
<text class="c" x="894" y="267">南溪</text>
<text class="c" x="973" y="281">缙云山</text>
<text class="c" x="1090" y="301">梅花山</text>
<text class="c" x="1443" y="120">轨道交通</text>
<text class="c" x="1375" y="320">梅花山</text>
<text class="c" x="1090" y="448">梅花山</text>
<text class="c" x="1470" y="477">玉皇观</text>
<text class="c" x="1088" y="639">思源</text>
<text class="c" x="1470" y="685">玉皇观</text>
<text class="c" x="867" y="639">思源</text>
<text class="c" x="738" y="775">偏岩</text>
<text class="c" x="636" y="837">三汇</text>
<text class="c" x="668" y="837">偏岩</text>
<text class="c" x="869" y="813">新农</text>

<!-- gray labels -->
<text class="g" x="444" y="254">12-1</text>
<text class="g" x="471" y="277">明珠小区</text>
<text class="g" x="523" y="277">花果山</text>
<text class="g" x="647" y="263">33-2</text>
<text class="g" x="495" y="188">12-8(北碚中心站)</text>
<text class="g" x="496" y="108">POS口</text>
<text class="g" x="558" y="71">明珠小区</text>
<text class="g" x="543" y="90">POS口</text>
<text class="g" x="595" y="106">花果山</text>
<text class="g" x="588" y="134">POS口</text>
<text class="g" x="614" y="174">8-3-1</text>
<text class="g" x="572" y="183">0-POS口</text>
<text class="g" x="606" y="192">1-3-2</text>
<text class="g" x="683" y="202">36-2</text>
<text class="g" x="658" y="208">26-1</text>
<text class="g" x="217" y="315">(北碚中心站)POS口</text>
<text class="g" x="289" y="315">0-POS口</text>
<text class="g" x="254" y="369">10-8</text>
<text class="g" x="280" y="369">10-1</text>
<text class="g" x="1311" y="364">34-1</text>
<text class="g" x="1351" y="347">31-1/2</text>
<text class="g" x="1391" y="359">合川公司/潼南公司</text>
<text class="g" x="1408" y="405">POS口</text>
<text class="g" x="1366" y="430">0-POS口</text>
<text class="g" x="645" y="717">5-1</text>
<text class="g" x="682" y="717">9-2</text>

<!-- legend -->
<g transform="translate(57,881)"><polygon points="-16,0 -8,-13 8,-13 16,0 8,13 -8,13" fill="#fff" stroke="#000" stroke-width="3.5"/><polygon points="-16,0 -8,-13 8,-13 16,0 8,13 -8,13" fill="none" stroke="#666" stroke-width="1.5"/></g>
<text class="lg" x="82" y="881" style="text-anchor:start">1660SMC</text>
<rect x="44.5" y="909.5" width="26" height="21" fill="#fff" stroke="#000" stroke-width="3.5"/>
<text class="lg" x="82" y="919" style="text-anchor:start">1662SMC</text>
<circle cx="57" cy="960" r="14" fill="#fff" stroke="#111" stroke-width="3.5"/>
<circle cx="57" cy="960" r="14" fill="none" stroke="#666" stroke-width="1.2"/>
<text class="lg" x="82" y="959" style="text-anchor:start">1650SMC</text>
<circle cx="57" cy="1001" r="15" fill="#fff" stroke="#000" stroke-width="1.2"/>
<circle cx="57" cy="1001" r="12.3" fill="none" stroke="#000" stroke-width="1.2"/>
<text class="lg" x="82" y="1000" style="text-anchor:start">1642SMC</text>
<circle cx="56" cy="1036" r="3" fill="#fff" stroke="#000" stroke-width="1.2"/>
<text x="107" y="1037" style="font-size:13px;font-family:'Noto Sans CJK SC',sans-serif;fill:#222">跳纤</text>
<rect x="197" y="871" width="26" height="22" fill="#fff" stroke="#000" stroke-width="1.3"/>
<text class="lg" x="284" y="882">烽火光设备</text>
<path d="M185,913H239" stroke="#ccc" stroke-width="2"/>
<text class="lg" x="287" y="913">155M连接</text>
<path d="M185,940H239" stroke="#000" stroke-width="2.5"/>
<text class="lg" x="287" y="940">622M连接</text>
<path d="M185,967H239" stroke="#555" stroke-width="2.5"/>
<text class="lg" x="287" y="966">2.5G连接</text>
<path d="M185,992H239" stroke="#777" stroke-width="4.5"/>
<text class="lg" x="287" y="991">10G连接</text>
<path class="m1" d="M186,1019.5H241"/><path class="m2" d="M186,1019.5H241"/>
<text class="lg" x="287" y="1018">MSP保护</text>
<path d="M192,1048H211M218,1048H237" stroke="#000" stroke-width="2.5"/>
<text class="lg" x="287" y="1047">拟建连接</text>

<!-- title and notes -->
<text x="443" y="963" textLength="840" lengthAdjust="spacingAndGlyphs" style="text-anchor:start;font-size:32px;font-family:'Liberation Serif','Noto Serif CJK SC',serif;font-weight:600;fill:#222">重庆北碚供电公司阿尔卡特光纤通信设备网络图（<tspan style="font-weight:bold">622M</tspan>）</text>
<text x="449" y="1001" textLength="561" lengthAdjust="spacingAndGlyphs" style="text-anchor:start;font-size:16px;font-family:'Liberation Serif','Noto Serif CJK SC',serif;fill:#222">1、NSAP地址：47.0005.8000.0000.0000.0000.0001.00206001CXXX.1D</text>
<text x="449" y="1025" textLength="346" lengthAdjust="spacingAndGlyphs" style="text-anchor:start;font-size:16px;font-family:'Liberation Serif','Noto Serif CJK SC',serif;fill:#222">2、站点名称后面数字表示该站点网元地址</text>
<text x="449" y="1050" textLength="522" lengthAdjust="spacingAndGlyphs" style="text-anchor:start;font-size:16px;font-family:'Liberation Serif','Noto Serif CJK SC',serif;fill:#222">3、OS地址：47.0005.8000.0000.0000.0000.0001.010020001001.1D</text>
<text x="1049" y="1001" textLength="311" lengthAdjust="spacingAndGlyphs" style="text-anchor:start;font-size:16px;font-family:'Liberation Serif','Noto Serif CJK SC',serif;fill:#222">4、调度数据网汇聚层POS口对应关系：</text>
<text x="1053" y="1024" textLength="393" lengthAdjust="spacingAndGlyphs" style="text-anchor:start;font-size:13px;font-family:'Liberation Serif','Noto Serif CJK SC',serif;fill:#333">（1）北碚中心站055/31槽/1光口——合川公司020/12槽/8光口</text>
<text x="1053" y="1044" textLength="393" lengthAdjust="spacingAndGlyphs" style="text-anchor:start;font-size:13px;font-family:'Liberation Serif','Noto Serif CJK SC',serif;fill:#333">（2）北碚中心站055/31槽/2光口——潼南公司108/10槽/8光口</text>
</svg>
</body></html>
